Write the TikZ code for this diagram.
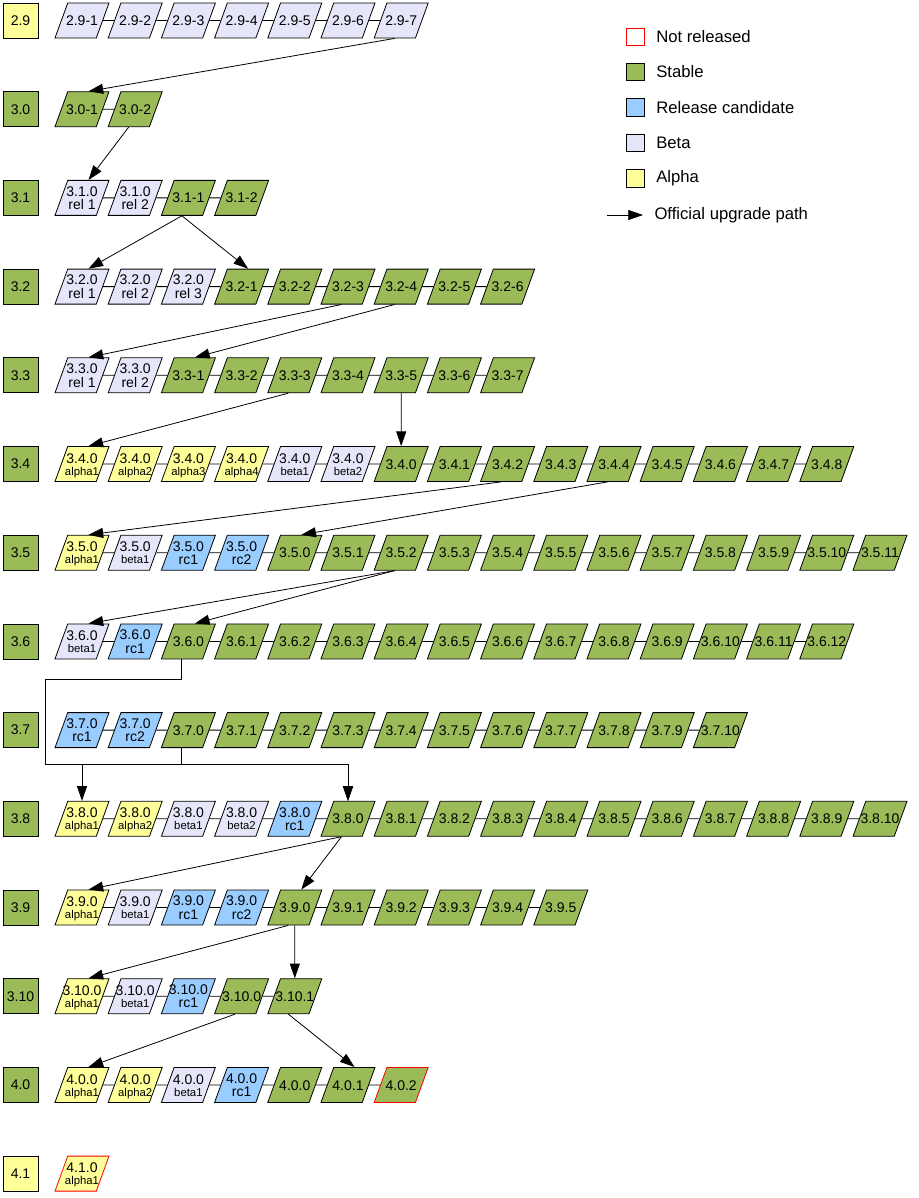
\documentclass[tikz,border=0pt]{standalone}
\usepackage{fontspec}
\setmainfont{Liberation Sans}
\usepackage{xcolor}
\usetikzlibrary{shapes.geometric, arrows.meta, positioning}
\definecolor{stablegreen}{HTML}{9BBB59}
\definecolor{rcblue}{HTML}{99CCFF}
\definecolor{betalilac}{HTML}{E6E6FA}
\definecolor{alphayellow}{HTML}{FFFF99}
\newcommand{\lo}{\fontsize{8.5}{9}\selectfont}
% text of a release box, always as high as the box
\newcommand{\rtext}[1]{\vbox to 26.25pt{\vss
  \hbox{\tabcolsep=0pt\begin{tabular}{c}#1\end{tabular}}\vss\vskip-3pt}}
% one row of releases: #1 row name, #2 row number, #3 text/kind list
\newcommand{\relrow}[3]{%
  \foreach \txt/\kind [count=\i from 0] in {#3} {
    \node [rel, \kind] (v#1-\i) at ({82+53.2*\i},{20.5+88.7*#2}) {\rtext{\txt}};
    \ifnum\i>0 \pgfmathtruncatemacro\last{\i-1}\draw (v#1-\last) -- (v#1-\i); \fi
  }}

\begin{document}
\begin{tikzpicture}[x=0.75pt, y=-0.75pt, line width=0.6pt]

  \tikzset{% styles for the boxes and the upgrade arrows
    rel/.style={trapezium, trapezium left angle=70, trapezium right angle=110,
      trapezium stretches body, draw, minimum width=40.5pt,
      inner xsep=-4pt, inner ysep=0pt, font=\fontsize{10.5}{9}\selectfont},
    stablebox/.style={fill=stablegreen},
    rcbox/.style={fill=rcblue},
    betabox/.style={fill=betalilac},
    alphabox/.style={fill=alphayellow},
    newstable/.style={fill=stablegreen, draw=red},
    newalpha/.style={fill=alphayellow, draw=red},
    verbox/.style={draw, fill=#1, minimum size=26.25pt, inner sep=0pt,
      font=\fontsize{10.5}{12}\selectfont},
    key/.style={draw, fill=#1, minimum size=13.3pt, inner sep=0pt},
    keytext/.style={font=\fontsize{12.5}{15}\selectfont},
    upg/.style={-{Triangle[length=11pt, width=7.5pt]}}}

  \useasboundingbox (0,0) rectangle (918,1198);

  % version column
  \foreach \lab/\col [count=\k from 0] in {2.9/alphayellow, 3.0/stablegreen,
      3.1/stablegreen, 3.2/stablegreen, 3.3/stablegreen, 3.4/stablegreen,
      3.5/stablegreen, 3.6/stablegreen, 3.7/stablegreen, 3.8/stablegreen,
      3.9/stablegreen, 3.10/stablegreen, 4.0/stablegreen, 4.1/alphayellow}
    \node [verbox=\col] (ver\k) at (20.5,{20.5+88.7*\k}) {\lab};

  % releases
  \relrow{29}{0}{2.9-1/betabox, 2.9-2/betabox, 2.9-3/betabox, 2.9-4/betabox,
    2.9-5/betabox, 2.9-6/betabox, 2.9-7/betabox}
  \relrow{30}{1}{3.0-1/stablebox, 3.0-2/stablebox}
  \relrow{31}{2}{3.1.0\\rel 1/betabox, 3.1.0\\rel 2/betabox, 3.1-1/stablebox,
    3.1-2/stablebox}
  \relrow{32}{3}{3.2.0\\rel 1/betabox, 3.2.0\\rel 2/betabox, 3.2.0\\rel 3/betabox,
    3.2-1/stablebox, 3.2-2/stablebox, 3.2-3/stablebox, 3.2-4/stablebox,
    3.2-5/stablebox, 3.2-6/stablebox}
  \relrow{33}{4}{3.3.0\\rel 1/betabox, 3.3.0\\rel 2/betabox, 3.3-1/stablebox,
    3.3-2/stablebox, 3.3-3/stablebox, 3.3-4/stablebox, 3.3-5/stablebox,
    3.3-6/stablebox, 3.3-7/stablebox}
  \relrow{34}{5}{3.4.0\\\lo alpha1/alphabox, 3.4.0\\\lo alpha2/alphabox,
    3.4.0\\\lo alpha3/alphabox, 3.4.0\\\lo alpha4/alphabox,
    3.4.0\\\lo beta1/betabox, 3.4.0\\\lo beta2/betabox, 3.4.0/stablebox,
    3.4.1/stablebox, 3.4.2/stablebox, 3.4.3/stablebox, 3.4.4/stablebox,
    3.4.5/stablebox, 3.4.6/stablebox, 3.4.7/stablebox, 3.4.8/stablebox}
  \relrow{35}{6}{3.5.0\\\lo alpha1/alphabox, 3.5.0\\\lo beta1/betabox,
    3.5.0\\rc1/rcbox, 3.5.0\\rc2/rcbox, 3.5.0/stablebox, 3.5.1/stablebox,
    3.5.2/stablebox, 3.5.3/stablebox, 3.5.4/stablebox, 3.5.5/stablebox,
    3.5.6/stablebox, 3.5.7/stablebox, 3.5.8/stablebox, 3.5.9/stablebox,
    3.5.10/stablebox, 3.5.11/stablebox}
  \relrow{36}{7}{3.6.0\\\lo beta1/betabox, 3.6.0\\rc1/rcbox, 3.6.0/stablebox,
    3.6.1/stablebox, 3.6.2/stablebox, 3.6.3/stablebox, 3.6.4/stablebox,
    3.6.5/stablebox, 3.6.6/stablebox, 3.6.7/stablebox, 3.6.8/stablebox,
    3.6.9/stablebox, 3.6.10/stablebox, 3.6.11/stablebox, 3.6.12/stablebox}
  \relrow{37}{8}{3.7.0\\rc1/rcbox, 3.7.0\\rc2/rcbox, 3.7.0/stablebox,
    3.7.1/stablebox, 3.7.2/stablebox, 3.7.3/stablebox, 3.7.4/stablebox,
    3.7.5/stablebox, 3.7.6/stablebox, 3.7.7/stablebox, 3.7.8/stablebox,
    3.7.9/stablebox, 3.7.10/stablebox}
  \relrow{38}{9}{3.8.0\\\lo alpha1/alphabox, 3.8.0\\\lo alpha2/alphabox,
    3.8.0\\\lo beta1/betabox, 3.8.0\\\lo beta2/betabox, 3.8.0\\rc1/rcbox,
    3.8.0/stablebox, 3.8.1/stablebox, 3.8.2/stablebox, 3.8.3/stablebox,
    3.8.4/stablebox, 3.8.5/stablebox, 3.8.6/stablebox, 3.8.7/stablebox,
    3.8.8/stablebox, 3.8.9/stablebox, 3.8.10/stablebox}
  \relrow{39}{10}{3.9.0\\\lo alpha1/alphabox, 3.9.0\\\lo beta1/betabox,
    3.9.0\\rc1/rcbox, 3.9.0\\rc2/rcbox, 3.9.0/stablebox, 3.9.1/stablebox,
    3.9.2/stablebox, 3.9.3/stablebox, 3.9.4/stablebox, 3.9.5/stablebox}
  \relrow{310}{11}{3.10.0\\\lo alpha1/alphabox, 3.10.0\\\lo beta1/betabox,
    3.10.0\\rc1/rcbox, 3.10.0/stablebox, 3.10.1/stablebox}
  \relrow{40}{12}{4.0.0\\\lo alpha1/alphabox, 4.0.0\\\lo alpha2/alphabox,
    4.0.0\\\lo beta1/betabox, 4.0.0\\rc1/rcbox, 4.0.0/stablebox,
    4.0.1/stablebox, 4.0.2/newstable}
  \relrow{41}{13}{4.1.0\\\lo alpha1/newalpha}

  % official upgrade path
  \draw [upg] (v29-6.bottom side) -- (v30-0.top side);
  \draw [upg] (v30-1.bottom side) -- (v31-0.top side);
  \draw [upg] (v31-2.bottom side) -- (v32-0.top side);
  \draw [upg] (v31-2.bottom side) -- (v32-3.top side);
  \draw [upg] (v32-5.bottom side) -- (v33-0.top side);
  \draw [upg] (v32-6.bottom side) -- (v33-2.top side);
  \draw [upg] (v33-4.bottom side) -- (v34-0.top side);
  \draw [upg] (v33-6.south) -- (v34-6.north);
  \draw [upg] (v34-8.bottom side) -- (v35-0.top side);
  \draw [upg] (v34-10.bottom side) -- (v35-4.top side);
  \draw [upg] (v35-6.bottom side) -- (v36-0.top side);
  \draw [upg] (v35-6.bottom side) -- (v36-2.top side);

  \coordinate (loop) at (45,679);
  \coordinate (bus) at (45,764);
  \draw [upg] (v36-2.bottom side) |- (loop) -- (bus) -| (v38-0.north);
  \draw [upg] (v36-2.bottom side) |- (loop) -- (bus) -| (v38-5.north);
  \draw [upg] (v37-2.bottom side) -- (v37-2.bottom side |- bus) -| (v38-5.north);

  \draw [upg] (v38-5.bottom side) -- (v39-0.top side);
  \draw [upg] (v38-5.bottom side) -- (v39-4.top side);
  \draw [upg] (v39-4.bottom side) -- (v310-0.top side);
  \draw [upg] (v39-4.south) -- (v310-4.north);
  \draw [upg] (v310-3.bottom side) -- (v40-0.top side);
  \draw [upg] (v310-4.bottom side) -- (v40-5.top side);

  % legend
  \node [key=white, draw=red] (keyNew) at (635.5,37) {};
  \node [key=stablegreen] (keyStable) at (635.5,72) {};
  \node [key=rcblue] (keyRc) at (635.5,107.5) {};
  \node [key=betalilac] (keyBeta) at (635.5,143) {};
  \node [key=alphayellow] (keyAlpha) at (635.5,178.5) {};
  \coordinate (keyFrom) at (607,215);
  \coordinate (keyTo) at (643,215);
  \draw [upg] (keyFrom) -- (keyTo);

  \node [keytext, right=5pt of keyNew] (keyNewText) {Not released};
  \node [keytext, right=5pt of keyStable] (keyStableText) {Stable};
  \node [keytext, right=5pt of keyRc] (keyRcText) {Release candidate};
  \node [keytext, right=5pt of keyBeta] (keyBetaText) {Beta};
  \node [keytext, right=5pt of keyAlpha] (keyAlphaText) {Alpha};
  \node [keytext, right=5pt of keyTo] (keyUpgText) {Official upgrade path};

\end{tikzpicture}
\end{document}
